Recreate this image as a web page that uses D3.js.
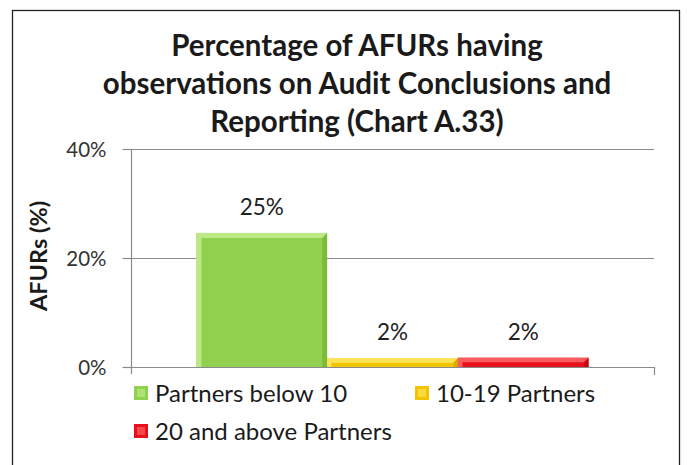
<!DOCTYPE html>
<html>
<head>
<meta charset="utf-8">
<script src="https://cdn.jsdelivr.net/npm/d3@7"></script>
<style>
  html, body { margin: 0; padding: 0; background: #fff; }
  svg { display: block; font-family: Lato, "Open Sans", sans-serif; }
</style>
</head>
<body>
<svg id="chart" width="689" height="465"></svg>
<script>
const TITLE_LINES = [
  'Percentage of AFURs having',
  'observations on Audit Conclusions and',
  'Reporting (Chart A.33)'
];
const SERIES = ['Partners below 10', '10-19 Partners', '20 and above Partners'];
const VALUES = [0.246, 0.016, 0.017];
const LABELS = ['25%', '2%', '2%'];
const Y_TICKS = [0, 0.2, 0.4];
const COLORS = ['#92d050', '#f2c500', '#e8111b'];
const LIGHT  = ['#c3ec8e', '#ffe766', '#ff6a6a'];
const DARK   = ['#6fae2c', '#c99a00', '#b0000a'];

const svg = d3.select('#chart');

// outer frame
svg.append('rect')
  .attr('x', 12.5).attr('y', 10.5).attr('width', 667).attr('height', 470)
  .attr('fill', '#fff').attr('stroke', '#222').attr('stroke-width', 1.3);

// title
svg.append('g').selectAll('text')
  .data(TITLE_LINES)
  .join('text')
  .attr('x', 357).attr('y', (d, i) => 56 + i * 38)
  .attr('text-anchor', 'middle')
  .attr('font-size', '29.5px').attr('font-weight', 700)
  .attr('fill', '#1a1a1a')
  .text(d => d);

const plot = { left: 131, right: 654, top: 149, bottom: 367 };

const y = d3.scaleLinear().domain([0, 0.4]).range([plot.bottom, plot.top]);
const x = d3.scaleBand().domain(SERIES).range([plot.left, plot.right])
  .paddingInner(0).paddingOuter(0.5);

// gridlines
svg.append('g').selectAll('line')
  .data(Y_TICKS.filter(t => t > 0))
  .join('line')
  .attr('x1', plot.left).attr('x2', plot.right)
  .attr('y1', d => y(d) + 0.5).attr('y2', d => y(d) + 0.5)
  .attr('stroke', '#8a8a8a').attr('stroke-width', 1.2);

// y axis
const yAxis = svg.append('g')
  .attr('transform', `translate(${plot.left + 0.5},0)`)
  .call(d3.axisLeft(y).tickValues(Y_TICKS).tickFormat(d3.format('.0%')).tickSize(9).tickPadding(16));
yAxis.select('.domain').remove();
yAxis.append('line')
  .attr('x1', 0).attr('x2', 0).attr('y1', plot.top).attr('y2', plot.bottom + 7)
  .attr('stroke', '#8a8a8a').attr('stroke-width', 1.2);
yAxis.selectAll('.tick line').attr('stroke', '#8a8a8a').attr('stroke-width', 1.2);
yAxis.selectAll('.tick text')
  .attr('font-size', '20.5px').attr('fill', '#333').attr('font-family', 'Lato, sans-serif')
  .attr('dy', '0.36em');

// bars with a bevelled look
const bars = svg.append('g').selectAll('g')
  .data(SERIES.map((s, i) => ({ s, v: VALUES[i], i })))
  .join('g');

bars.append('rect')
  .attr('x', d => x(d.s)).attr('width', x.bandwidth())
  .attr('y', d => y(d.v)).attr('height', d => y(0) - y(d.v))
  .attr('fill', d => COLORS[d.i]);

function bevel(d) {
  const x0 = x(d.s), x1 = x0 + x.bandwidth();
  const y0 = y(d.v), y1 = y(0);
  const b = Math.min(5, (y1 - y0) / 2);
  return { x0, x1, y0, y1, b };
}
bars.append('path')
  .attr('fill', d => LIGHT[d.i]).attr('opacity', 0.85)
  .attr('d', d => {
    const { x0, x1, y0, y1, b } = bevel(d);
    return `M${x0},${y1}L${x0},${y0}L${x1},${y0}L${x1 - b},${y0 + b}L${x0 + b},${y0 + b}L${x0 + b},${y1}Z`;
  });
bars.append('path')
  .attr('fill', d => DARK[d.i]).attr('opacity', 0.6)
  .attr('d', d => {
    const { x0, x1, y0, y1, b } = bevel(d);
    return `M${x1},${y0}L${x1},${y1}L${x1 - b},${y1}L${x1 - b},${y0 + b}Z`;
  });

// data labels
svg.append('g').selectAll('text')
  .data(SERIES.map((s, i) => ({ s, v: VALUES[i], l: LABELS[i] })))
  .join('text')
  .attr('x', d => x(d.s) + x.bandwidth() / 2)
  .attr('y', d => y(d.v) - 18)
  .attr('text-anchor', 'middle')
  .attr('font-size', '22.5px').attr('fill', '#222')
  .text(d => d.l);

// x axis
svg.append('path')
  .attr('d', `M${plot.left},${plot.bottom + 0.5}H${plot.right + 0.5}V${plot.bottom + 8}`)
  .attr('fill', 'none').attr('stroke', '#8a8a8a').attr('stroke-width', 1.2);

// y axis title
svg.append('text')
  .attr('transform', 'translate(47,256) rotate(-90)')
  .attr('text-anchor', 'middle')
  .attr('font-size', '23.5px').attr('font-weight', 700).attr('fill', '#1a1a1a')
  .text('AFURs (%)');

// legend
const legendPos = [[134, 393], [415, 393], [134, 431]];
const legend = svg.append('g').selectAll('g')
  .data(SERIES)
  .join('g')
  .attr('transform', (d, i) => `translate(${legendPos[i][0]},${legendPos[i][1]})`);
legend.append('rect')
  .attr('x', 0).attr('y', -7).attr('width', 14).attr('height', 14)
  .attr('fill', (d, i) => COLORS[i]);
legend.append('rect')
  .attr('x', 3).attr('y', -4).attr('width', 8).attr('height', 8)
  .attr('fill', (d, i) => LIGHT[i]).attr('opacity', 0.6);
legend.append('text')
  .attr('x', 21).attr('y', 0).attr('dy', '0.36em')
  .attr('font-size', '24px').attr('fill', '#1a1a1a')
  .text(d => d);
</script>
</body>
</html>
